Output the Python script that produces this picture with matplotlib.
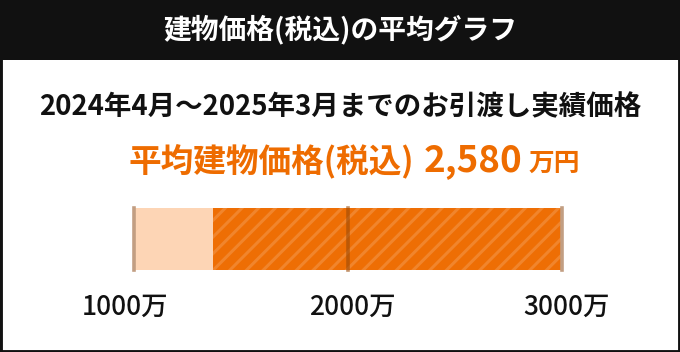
import matplotlib
matplotlib.use("Agg")
import matplotlib.pyplot as plt
from matplotlib.patches import Rectangle
import matplotlib.transforms as mtransforms

plt.rcParams['font.family'] = ['Noto Sans CJK JP', 'DejaVu Sans']
plt.rcParams['hatch.linewidth'] = 2.2

# ---- data ----
title = "建物価格(税込)の平均グラフ"
subtitle = "2024年4月～2025年3月までのお引渡し実績価格"
avg_label = "平均建物価格(税込)"
avg_value = "2,580"
avg_unit = "万円"
segment_starts = [1000, 1370]
segment_ends = [1370, 3000]
tick_values = [1000, 2000, 3000]
tick_labels = ["1000万", "2000万", "3000万"]

W, H = 680, 352
fig = plt.figure(figsize=(W / 100, H / 100), dpi=100)
fig.patch.set_facecolor('white')

def fx(px):
    return px / W

def fy(py):
    return 1 - py / H

# header
fig.patches.append(Rectangle((0, fy(60)), 1, 60 / H, transform=fig.transFigure,
                             facecolor='#111111', edgecolor='none', zorder=0))
fig.text(0.5, fy(30), title, color='white', fontsize=20, fontweight='bold',
         ha='center', va='center')

# subtitle
fig.text(0.5, fy(107), subtitle, color='#111111', fontsize=19.8, fontweight='bold',
         ha='center', va='center')

# orange line (laid out consecutively)
orange = '#EE6C00'
renderer = fig.canvas.get_renderer()
parts = [(avg_label, 23.5, 0), (avg_value, 26.5, 10), (avg_unit, 18.5, 6)]
texts = []
for s, fs, gap in parts:
    t = fig.text(0, fy(171), s, color=orange, fontsize=fs, fontweight='bold',
                 ha='left', va='baseline')
    texts.append((t, gap))
widths = [t.get_window_extent(renderer).width for t, _ in texts]
total = sum(widths) + sum(g for _, g in texts)
x = (W - total) / 2 + 14
for (t, gap), w in zip(texts, widths):
    x += gap
    t.set_x(fx(x))
    x += w

# bar axes
x0, x1 = 133.5, 562
ax = fig.add_axes([fx(x0), fy(270), (x1 - x0) / W, 62 / H])
ax.set_xlim(tick_values[0], tick_values[-1])
ax.set_ylim(0, 1)
ax.axis('off')

colors = ['#FDD5B5', '#EE6E04']
hatches = [None, '//']
for s, e, c, h in zip(segment_starts, segment_ends, colors, hatches):
    ax.barh(0.5, e - s, left=s, height=1.0, color=c,
            edgecolor='#F1852C' if h else 'none', linewidth=0, hatch=h, zorder=1)

for v in tick_values:
    if v in (tick_values[0], tick_values[-1]):
        ax.axvline(v, color='#C29E82', linewidth=2.6, zorder=3, clip_on=False)
    else:
        ax.axvline(v, color='#9A4A08', alpha=0.6, linewidth=2.6, zorder=3, clip_on=False)

for v, lab in zip(tick_values, tick_labels):
    off = -8 if v == tick_values[0] else 5
    tr = ax.get_xaxis_transform() + mtransforms.ScaledTranslation(off / 100, 0, fig.dpi_scale_trans)
    ax.text(v, -0.60, lab, transform=tr, ha='center', va='center',
            fontsize=19, fontweight='medium', color='#111111', clip_on=False)

# outer border
fig.patches.append(Rectangle((0, 0), 1, 1, transform=fig.transFigure,
                             facecolor='none', edgecolor='#111111', linewidth=3.5, zorder=10))

fig.savefig('out.png', dpi=100)
